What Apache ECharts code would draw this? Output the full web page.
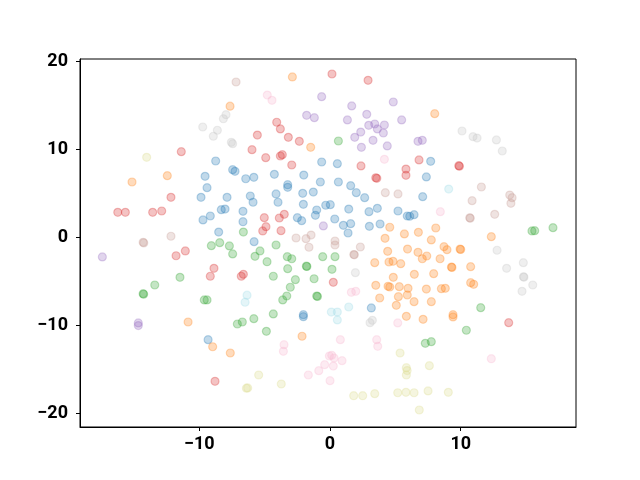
<!DOCTYPE html>
<html>
<head>
<meta charset="utf-8">
<script src="https://cdn.jsdelivr.net/npm/echarts@6/dist/echarts.min.js"></script>
<style>html,body{margin:0;padding:0;background:#fff}#c{width:640px;height:480px}</style>
</head>
<body>
<div id="c"></div>
<script>
const classNames = ['0','1','2','3','4','5','6','7','8','9'];
const classColors = ['#1f77b4','#ff7f0e','#2ca02c','#d62728','#9467bd','#c49c94','#f7b6d2','#c7c7c7','#dbdb8d','#9edae5'];
const xTicks = [-10, 0, 10];
const yTicks = [-20, -10, 0, 10, 20];

const class0 = [[-8.75,8.68],[-7.45,7.7],[-7.27,7.51],[-9.56,6.94],[-0.64,8.57],[0.56,8.38],[-4.26,7.17],[-2.01,7.09],[-5.83,6.83],[-6.45,6.67],[7.7,8.65],[7.37,6.87],[-9.41,5.65],[-9.87,4.56],[-7.88,4.56],[-8.32,3.16],[-8.03,3.23],[-9.16,2.44],[-9.72,1.99],[-6.66,2.97],[-6.66,1.79],[-8.52,0.62],[-3.24,5.99],[-3.24,5.7],[-0.74,6.3],[0.64,6.3],[1.58,5.88],[-6.1,4.71],[-4.13,4.94],[-2.09,5.01],[-1.28,5.16],[2.01,5.09],[2.65,4.52],[-5.89,4.0],[-3.98,4.0],[-2.04,3.77],[-0.33,3.66],[0.02,3.73],[-1.02,3.12],[-1.12,2.52],[1.43,3.23],[2.98,2.93],[3.62,3.31],[5.2,3.01],[5.91,2.44],[-2.5,2.25],[-2.17,1.91],[0.36,2.1],[1.02,1.38],[1.58,1.57],[1.38,0.51],[3.01,1.27],[3.83,1.53],[-5.81,-0.47],[7.09,4.63],[6.1,2.41],[6.43,2.59],[-9.33,-11.6],[-2.04,-8.76],[-2.04,-8.99],[3.16,-8.0]];
const class1 = [[-7.65,14.9],[-12.45,7.02],[-15.15,6.3],[-2.88,18.22],[-1.48,10.24],[8.01,14.05],[4.57,1.16],[5.69,0.4],[4.21,-0.09],[4.41,-1.57],[3.42,-2.86],[4.51,-2.78],[4.82,-2.7],[5.41,-2.97],[5.93,-1.31],[4.84,-4.52],[3.5,-5.43],[4.44,-5.54],[4.57,-5.62],[5.3,-5.58],[3.8,-6.87],[5.23,-6.72],[5.91,-6.53],[8.09,1.08],[6.76,0.59],[7.75,-0.28],[12.34,0.09],[6.73,-1.68],[7.06,-2.41],[7.4,-2.1],[8.72,-1.04],[8.95,-1.38],[9.95,-1.32],[10.0,-1.36],[8.42,-2.41],[9.29,-3.36],[9.33,-3.4],[10.76,-3.31],[6.45,-4.18],[7.93,-4.11],[10.76,-5.13],[10.99,-5.31],[7.37,-5.85],[8.52,-5.81],[8.82,-5.77],[5.97,-5.77],[6.43,-7.29],[7.75,-7.29],[-10.86,-9.59],[-8.98,-12.4],[-7.63,-13.11],[-2.14,-11.21],[5.07,-7.7],[5.84,-8.95],[7.12,-9.29],[9.41,-8.76],[9.41,-9.02]];
const class2 = [[0.64,10.95],[-6.63,0.62],[-9.08,-0.93],[-8.44,-0.59],[-7.7,-0.96],[-7.45,-1.87],[-11.48,-4.52],[-13.41,-5.39],[-14.3,-6.38],[-14.26,-6.44],[-9.62,-7.09],[-9.41,-7.09],[-4.13,-0.85],[-5.36,-1.53],[-5.74,-2.14],[-4.82,-2.75],[-3.27,-2.18],[-2.93,-2.41],[-0.56,-2.18],[0.38,-2.18],[-1.81,-3.25],[-1.77,-3.29],[-3.24,-3.54],[0.15,-3.61],[-4.34,-4.4],[-2.65,-4.79],[-1.22,-4.68],[-3.04,-5.65],[-3.31,-6.64],[-3.62,-7.09],[-1.02,-6.65],[-0.96,-6.69],[15.45,0.74],[15.66,0.77],[17.06,1.11],[-7.09,-9.82],[-6.71,-9.59],[-5.83,-9.21],[-4.34,-8.68],[-4.87,-10.65],[11.53,-7.97],[10.43,-10.53],[7.29,-12.01],[7.75,-11.83]];
const class3 = [[-11.38,9.74],[0.15,18.56],[2.91,17.84],[-4.08,13.08],[-3.8,12.32],[-5.56,11.63],[-3.19,11.37],[-2.35,10.92],[-5.97,9.97],[-4.92,9.06],[-3.8,9.25],[-3.65,9.4],[-2.93,8.23],[2.37,8.12],[3.5,6.78],[3.58,6.72],[5.81,7.77],[5.81,7.06],[6.81,8.8],[9.85,8.15],[9.9,8.1],[-12.17,4.56],[-16.24,2.86],[-15.66,2.86],[-13.57,2.86],[-12.88,3.01],[-11.78,-2.07],[-11.07,-1.53],[-8.88,-3.5],[-9.16,-4.4],[-6.79,-4.4],[-6.63,-4.18],[-5.03,2.25],[-4.9,1.23],[-5.15,0.74],[-3.88,2.21],[-3.5,2.63],[-3.75,0.77],[0.25,-5.09],[-8.8,-16.32],[13.67,-9.67]];
const class4 = [[-0.64,15.98],[4.84,15.38],[1.66,14.93],[-1.79,13.87],[-1.2,13.6],[2.81,13.98],[1.33,13.34],[5.48,13.34],[2.96,12.73],[3.42,12.88],[3.62,12.32],[4.16,12.77],[2.35,11.97],[1.89,11.37],[4.08,11.86],[3.29,11.03],[4.38,10.39],[2.4,10.24],[6.73,10.92],[7.06,11.03],[-17.42,-2.21],[-0.51,1.31],[-14.67,-9.7],[-14.67,-10.0]];
const class5 = [[-7.19,17.65],[-14.3,-0.55],[-14.25,-0.62],[-12.17,0.14],[4.23,5.09],[5.2,4.94],[-2.6,-0.06],[-1.84,-0.13],[-1.45,0.28],[-1.61,-1.11],[0.38,-0.4],[0.38,-0.85],[2.32,-1.08],[1.82,-1.93],[1.86,-1.97],[11.58,5.73],[13.75,4.82],[13.93,4.52],[10.87,4.18],[13.84,3.88],[12.6,2.63],[10.69,2.23],[10.73,2.19]];
const class6 = [[-4.8,16.17],[-4.44,15.57],[4.16,8.87],[8.44,2.93],[1.63,-6.22],[1.97,-6.11],[5.18,-9.7],[-3.52,-12.17],[-3.57,-12.92],[0.79,-11.6],[3.57,-11.6],[3.65,-12.35],[-0.05,-13.45],[0.13,-13.37],[0.31,-13.68],[-0.41,-14.44],[0.25,-14.59],[0.92,-13.98],[-0.86,-15.12],[-1.66,-15.61],[0.0,-16.25],[12.34,-13.76]];
const class7 = [[-7.96,13.94],[-8.16,13.48],[-9.74,12.54],[-8.62,12.17],[-8.93,11.49],[-7.55,10.8],[-7.45,10.65],[10.1,12.09],[10.94,11.44],[11.25,11.29],[12.73,11.07],[13.18,9.82],[1.94,-3.99],[12.78,-1.45],[14.79,-2.86],[13.51,-3.5],[14.8,-4.46],[14.84,-4.5],[15.51,-5.39],[14.69,-6.11],[3.06,-9.67],[3.24,-9.4]];
const class8 = [[-14.03,9.1],[-6.3,-17.08],[-6.4,-17.1],[5.36,-13.11],[5.84,-14.78],[5.9,-15.1],[5.84,-15.61],[-5.46,-15.61],[-3.73,-16.63],[1.81,-17.96],[2.5,-17.96],[3.42,-17.73],[5.18,-17.62],[5.81,-17.57],[6.43,-17.62],[7.6,-14.55],[7.5,-17.42],[9.05,-17.57],[6.83,-19.58]];
const class9 = [[9.08,5.5],[-6.35,-6.55],[-6.5,-7.35],[0.1,-8.46],[0.56,-8.46],[0.56,-9.36],[1.43,-7.89]];

const classData = [class0,class1,class2,class3,class4,class5,class6,class7,class8,class9];

function hexA(h, a) {
  const r = parseInt(h.slice(1,3),16), g = parseInt(h.slice(3,5),16), b = parseInt(h.slice(5,7),16);
  return 'rgba(' + r + ',' + g + ',' + b + ',' + a + ')';
}
const fmt = v => (v < 0 ? '\u2212' + Math.abs(v) : String(v));
const labelStyle = {color:'#000', fontFamily:'Roboto', fontWeight:'bold', fontSize:18};

const chart = echarts.init(document.getElementById('c'), null, {renderer:'canvas'});
chart.setOption({
  animation: false,
  backgroundColor: '#fff',
  grid: {left:80, top:59, width:496, height:368, show:true, borderColor:'#000', borderWidth:1, backgroundColor:'transparent'},
  xAxis: {
    type:'value', min:-19.13, max:18.82,
    splitLine:{show:false},
    axisLine:{show:true, onZero:false, lineStyle:{color:'#000', width:1}},
    axisTick:{show:true, length:4, lineStyle:{color:'#000', width:1}, customValues:xTicks},
    axisLabel:Object.assign({margin:8, formatter:fmt, customValues:xTicks}, labelStyle)
  },
  yAxis: {
    type:'value', min:-21.51, max:20.26,
    splitLine:{show:false},
    axisLine:{show:true, onZero:false, lineStyle:{color:'#000', width:1}},
    axisTick:{show:true, length:4, lineStyle:{color:'#000', width:1}, customValues:yTicks},
    axisLabel:Object.assign({margin:12, formatter:fmt, customValues:yTicks}, labelStyle)
  },
  series: classData.map((d, i) => ({
    name: classNames[i],
    type: 'scatter',
    data: d,
    symbol: 'circle',
    symbolSize: 8,
    itemStyle: {color: hexA(classColors[i], 0.35), borderColor: hexA(classColors[i], 0.35), borderWidth: 1.2}
  }))
});
</script>
</body>
</html>
